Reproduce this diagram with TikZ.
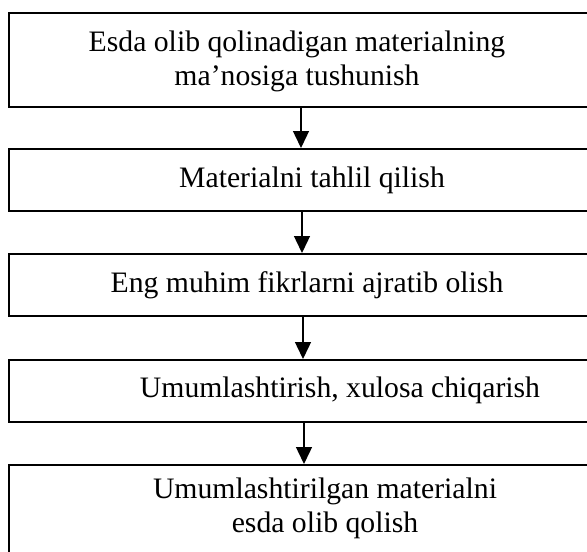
\documentclass[tikz,border=0pt]{standalone}
\usepackage{fontspec}
\setmainfont{Liberation Serif}
\usetikzlibrary{arrows.meta}
\tikzset{
  blok/.style={draw, line width=1.8pt, inner sep=0pt, anchor=north west},
  matn/.style={align=center, font=\fontsize{29.7}{34}\selectfont},
  strelka/.style={line width=1.4pt, -{Triangle[length=17pt,width=16pt]}}
}
\begin{document}
\begin{tikzpicture}[x=1pt,y=-1pt]
    \useasboundingbox (0,0) rectangle (587,552);
    \clip (0,0) rectangle (587,552);
    % bloklar
    \foreach \n/\t/\b in {1/12/106, 2/148/210, 3/253/315, 4/359/421, 5/464/570}
        {
            \node[blok, minimum width=600pt, minimum height={(\b-\t)*1pt}] (b\n) at (8,\t) {};
        }
    \node[matn] (t1) at (297,61) {Esda olib qolinadigan materialning\\ma’nosiga tushunish};
    \node[matn] (t2) at (312,180) {Materialni tahlil qilish};
    \node[matn] (t3) at (307,285) {Eng muhim fikrlarni ajratib olish};
    \node[matn] (t4) at (340,390) {Umumlashtirish, xulosa chiqarish};
    \node[matn] (t5) at (325,508) {Umumlashtirilgan materialni\\esda olib qolish};
    % strelkalar
    \foreach \i/\j/\x in {1/2/301, 2/3/302, 3/4/303, 4/5/304}
        {
            \coordinate (s\i) at (\x,0);
            \draw[strelka] (b\i.south -| s\i) -- (b\j.north -| s\i);
        }
\end{tikzpicture}
\end{document}
